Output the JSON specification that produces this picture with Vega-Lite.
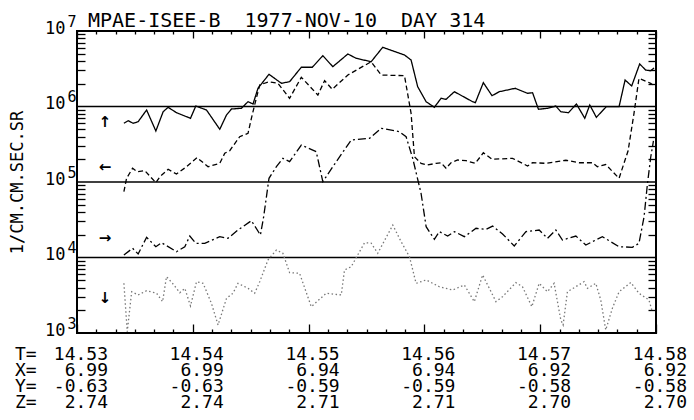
{
  "$schema": "https://vega.github.io/schema/vega-lite/v6.json",
  "autosize": {"type": "none"},
  "padding": {"left": 77, "top": 31, "right": 38, "bottom": 87},
  "width": 579,
  "height": 302,
  "background": "white",
  "config": {
    "view": {"stroke": "black", "strokeWidth": 2},
    "axis": {"domain": false, "grid": false, "tickColor": "black", "tickWidth": 1.3, "labelColor": "black", "titleColor": "black"},
    "text": {"font": "DejaVu Sans Mono", "color": "black"}
  },
  "datasets": {
    "refs": [{"ref": 1000000}, {"ref": 100000}, {"ref": 10000}],
    "heading": [{"t": 14.53, "v": 10000000, "label": "MPAE-ISEE-B \u00a01977-NOV-10 \u00a0DAY 314"}],
    "series": [
      {"s":"up","t":14.53405,"v":599000},{"s":"up","t":14.53442,"v":649000},{"s":"up","t":14.53485,"v":599000},{"s":"up","t":14.53528,"v":629000},{"s":"up","t":14.53601,"v":899000},{"s":"up","t":14.53681,"v":474000},{"s":"up","t":14.53744,"v":853000},{"s":"up","t":14.53787,"v":976000},{"s":"up","t":14.53859,"v":828000},{"s":"up","t":14.5398,"v":698000},{"s":"up","t":14.54026,"v":1015000},{"s":"up","t":14.54118,"v":899000},{"s":"up","t":14.54233,"v":499000},{"s":"up","t":14.54291,"v":772000},{"s":"up","t":14.54334,"v":927000},{"s":"up","t":14.5442,"v":947000},{"s":"up","t":14.54477,"v":1158000},{"s":"up","t":14.5452,"v":1079000},{"s":"up","t":14.54563,"v":1742000},{"s":"up","t":14.54658,"v":2670000},{"s":"up","t":14.54765,"v":2030000},{"s":"up","t":14.54836,"v":2130000},{"s":"up","t":14.54937,"v":3310000},{"s":"up","t":14.55032,"v":3310000},{"s":"up","t":14.55123,"v":4710000},{"s":"up","t":14.55209,"v":3370000},{"s":"up","t":14.55339,"v":4960000},{"s":"up","t":14.55411,"v":4350000},{"s":"up","t":14.5554,"v":3920000},{"s":"up","t":14.5564,"v":6080000},{"s":"up","t":14.55828,"v":4810000},{"s":"up","t":14.55885,"v":4130000},{"s":"up","t":14.55942,"v":1830000},{"s":"up","t":14.56015,"v":1158000},{"s":"up","t":14.56086,"v":976000},{"s":"up","t":14.56144,"v":1284000},{"s":"up","t":14.56187,"v":1245000},{"s":"up","t":14.56259,"v":1570000},{"s":"up","t":14.56416,"v":1158000},{"s":"up","t":14.5644,"v":1123000},{"s":"up","t":14.56509,"v":2070000},{"s":"up","t":14.56584,"v":1390000},{"s":"up","t":14.56647,"v":1570000},{"s":"up","t":14.56784,"v":1742000},{"s":"up","t":14.56891,"v":1495000},{"s":"up","t":14.56934,"v":1523000},{"s":"up","t":14.56985,"v":918000},{"s":"up","t":14.57063,"v":947000},{"s":"up","t":14.57135,"v":1015000},{"s":"up","t":14.57178,"v":853000},{"s":"up","t":14.57244,"v":828000},{"s":"up","t":14.57313,"v":1079000},{"s":"up","t":14.57385,"v":698000},{"s":"up","t":14.57428,"v":1047000},{"s":"up","t":14.57485,"v":719000},{"s":"up","t":14.57571,"v":994000},{"s":"up","t":14.57681,"v":994000},{"s":"up","t":14.57733,"v":2240000},{"s":"up","t":14.5779,"v":1870000},{"s":"up","t":14.57859,"v":3660000},{"s":"up","t":14.57911,"v":3040000},{"s":"up","t":14.57954,"v":2980000},{"s":"up","t":14.57983,"v":3240000},
      {"s":"left","t":14.53405,"v":74400},{"s":"left","t":14.53428,"v":111900},{"s":"left","t":14.5348,"v":151900},{"s":"left","t":14.5352,"v":136900},{"s":"left","t":14.53586,"v":141100},{"s":"left","t":14.53681,"v":97900},{"s":"left","t":14.53716,"v":117600},{"s":"left","t":14.53787,"v":147300},{"s":"left","t":14.53859,"v":127600},{"s":"left","t":14.53946,"v":159400},{"s":"left","t":14.54037,"v":210000},{"s":"left","t":14.54132,"v":159400},{"s":"left","t":14.54233,"v":176900},{"s":"left","t":14.54276,"v":240000},{"s":"left","t":14.54319,"v":260000},{"s":"left","t":14.54405,"v":398000},{"s":"left","t":14.54477,"v":442000},{"s":"left","t":14.54506,"v":698000},{"s":"left","t":14.54534,"v":1047000},{"s":"left","t":14.54578,"v":1930000},{"s":"left","t":14.54658,"v":2130000},{"s":"left","t":14.54735,"v":2030000},{"s":"left","t":14.54836,"v":1284000},{"s":"left","t":14.54937,"v":2440000},{"s":"left","t":14.5508,"v":1420000},{"s":"left","t":14.55138,"v":2200000},{"s":"left","t":14.55204,"v":1690000},{"s":"left","t":14.55339,"v":2610000},{"s":"left","t":14.5554,"v":3920000},{"s":"left","t":14.55627,"v":2610000},{"s":"left","t":14.55828,"v":2560000},{"s":"left","t":14.55885,"v":812000},{"s":"left","t":14.55914,"v":216000},{"s":"left","t":14.55971,"v":176900},{"s":"left","t":14.56028,"v":168000},{"s":"left","t":14.56101,"v":176900},{"s":"left","t":14.56144,"v":180000},{"s":"left","t":14.56187,"v":151900},{"s":"left","t":14.5623,"v":180000},{"s":"left","t":14.56287,"v":195600},{"s":"left","t":14.56359,"v":191500},{"s":"left","t":14.5644,"v":176900},{"s":"left","t":14.56509,"v":244000},{"s":"left","t":14.56584,"v":200000},{"s":"left","t":14.56761,"v":206000},{"s":"left","t":14.56891,"v":163000},{"s":"left","t":14.56934,"v":180000},{"s":"left","t":14.57049,"v":176900},{"s":"left","t":14.57222,"v":194000},{"s":"left","t":14.57336,"v":180000},{"s":"left","t":14.57451,"v":180000},{"s":"left","t":14.57494,"v":159400},{"s":"left","t":14.57566,"v":170500},{"s":"left","t":14.57681,"v":111900},{"s":"left","t":14.57759,"v":259000},{"s":"left","t":14.5781,"v":812000},{"s":"left","t":14.57853,"v":2360000},{"s":"left","t":14.57954,"v":2030000},{"s":"left","t":14.57983,"v":1870000},
      {"s":"right","t":14.53405,"v":10790},{"s":"right","t":14.5348,"v":13240},{"s":"right","t":14.53528,"v":11130},{"s":"right","t":14.53601,"v":18510},{"s":"right","t":14.53681,"v":13900},{"s":"right","t":14.5373,"v":15700},{"s":"right","t":14.53859,"v":11930},{"s":"right","t":14.53931,"v":13900},{"s":"right","t":14.53974,"v":19260},{"s":"right","t":14.54026,"v":15420},{"s":"right","t":14.54103,"v":15420},{"s":"right","t":14.54233,"v":18860},{"s":"right","t":14.54304,"v":17960},{"s":"right","t":14.5439,"v":23100},{"s":"right","t":14.54506,"v":30700},{"s":"right","t":14.54584,"v":19860},{"s":"right","t":14.54612,"v":34700},{"s":"right","t":14.54658,"v":111900},{"s":"right","t":14.54722,"v":159400},{"s":"right","t":14.54778,"v":206000},{"s":"right","t":14.54836,"v":185800},{"s":"right","t":14.54937,"v":309000},{"s":"right","t":14.55066,"v":252000},{"s":"right","t":14.55123,"v":100900},{"s":"right","t":14.55209,"v":159400},{"s":"right","t":14.55368,"v":360000},{"s":"right","t":14.55526,"v":379000},{"s":"right","t":14.55627,"v":514000},{"s":"right","t":14.55784,"v":464000},{"s":"right","t":14.55842,"v":398000},{"s":"right","t":14.55899,"v":206000},{"s":"right","t":14.55971,"v":70900},{"s":"right","t":14.56015,"v":25600},{"s":"right","t":14.56086,"v":17420},{"s":"right","t":14.56129,"v":22000},{"s":"right","t":14.56201,"v":19260},{"s":"right","t":14.56259,"v":22000},{"s":"right","t":14.56345,"v":18860},{"s":"right","t":14.56446,"v":24400},{"s":"right","t":14.56532,"v":23600},{"s":"right","t":14.56589,"v":26100},{"s":"right","t":14.56675,"v":20500},{"s":"right","t":14.56776,"v":14200},{"s":"right","t":14.56877,"v":22000},{"s":"right","t":14.56991,"v":23100},{"s":"right","t":14.57063,"v":17960},{"s":"right","t":14.57135,"v":23100},{"s":"right","t":14.57192,"v":17050},{"s":"right","t":14.57308,"v":19260},{"s":"right","t":14.57394,"v":14640},{"s":"right","t":14.57537,"v":18860},{"s":"right","t":14.57681,"v":13900},{"s":"right","t":14.57796,"v":13650},{"s":"right","t":14.57853,"v":15420},{"s":"right","t":14.57897,"v":34700},{"s":"right","t":14.57925,"v":91300},{"s":"right","t":14.57954,"v":211000},{"s":"right","t":14.57978,"v":350000},
      {"s":"down","t":14.53405,"v":4550},{"s":"down","t":14.53434,"v":1040},{"s":"down","t":14.53472,"v":3520},{"s":"down","t":14.53528,"v":3190},{"s":"down","t":14.53601,"v":3630},{"s":"down","t":14.53687,"v":3360},{"s":"down","t":14.53739,"v":2600},{"s":"down","t":14.53773,"v":5570},{"s":"down","t":14.53825,"v":4550},{"s":"down","t":14.53888,"v":3420},{"s":"down","t":14.53931,"v":3910},{"s":"down","t":14.5398,"v":2280},{"s":"down","t":14.54032,"v":4780},{"s":"down","t":14.54089,"v":4550},{"s":"down","t":14.54161,"v":2470},{"s":"down","t":14.54218,"v":1276},{"s":"down","t":14.54291,"v":2880},{"s":"down","t":14.54347,"v":3360},{"s":"down","t":14.5439,"v":4550},{"s":"down","t":14.54477,"v":3910},{"s":"down","t":14.54534,"v":3360},{"s":"down","t":14.54578,"v":4780},{"s":"down","t":14.54649,"v":9270},{"s":"down","t":14.54722,"v":12570},{"s":"down","t":14.54778,"v":11370},{"s":"down","t":14.54836,"v":6290},{"s":"down","t":14.54922,"v":6180},{"s":"down","t":14.55023,"v":2230},{"s":"down","t":14.55152,"v":3360},{"s":"down","t":14.55282,"v":3190},{"s":"down","t":14.5531,"v":6830},{"s":"down","t":14.55368,"v":7550},{"s":"down","t":14.55483,"v":15700},{"s":"down","t":14.5554,"v":15500},{"s":"down","t":14.55597,"v":11370},{"s":"down","t":14.55727,"v":26900},{"s":"down","t":14.55799,"v":16200},{"s":"down","t":14.55871,"v":10250},{"s":"down","t":14.55928,"v":4550},{"s":"down","t":14.56015,"v":5040},{"s":"down","t":14.56129,"v":4100},{"s":"down","t":14.56244,"v":3710},{"s":"down","t":14.56345,"v":4320},{"s":"down","t":14.56431,"v":2600},{"s":"down","t":14.56503,"v":5870},{"s":"down","t":14.56618,"v":2600},{"s":"down","t":14.56675,"v":3030},{"s":"down","t":14.5679,"v":4640},{"s":"down","t":14.56847,"v":4100},{"s":"down","t":14.56928,"v":2230},{"s":"down","t":14.56991,"v":4550},{"s":"down","t":14.57063,"v":3520},{"s":"down","t":14.5712,"v":4550},{"s":"down","t":14.57178,"v":1487},{"s":"down","t":14.57198,"v":1276},{"s":"down","t":14.57235,"v":3520},{"s":"down","t":14.57379,"v":4780},{"s":"down","t":14.57408,"v":3910},{"s":"down","t":14.5748,"v":4550},{"s":"down","t":14.57523,"v":2740},{"s":"down","t":14.57566,"v":1096},{"s":"down","t":14.57623,"v":2120},{"s":"down","t":14.57681,"v":3520},{"s":"down","t":14.57782,"v":4670},{"s":"down","t":14.57853,"v":3360},{"s":"down","t":14.57939,"v":2740},{"s":"down","t":14.57968,"v":1915}
    ],
    "arrows": [
      {"t": 14.53241, "v": 624000, "a": "↑"},
      {"t": 14.53241, "v": 158000, "a": "←"},
      {"t": 14.53241, "v": 18100, "a": "→"},
      {"t": 14.53241, "v": 2910, "a": "↓"}
    ],
    "table": [
      {"row": "T", "t": 14.53, "label": "14.53"}, {"row": "T", "t": 14.54, "label": "14.54"}, {"row": "T", "t": 14.55, "label": "14.55"}, {"row": "T", "t": 14.56, "label": "14.56"}, {"row": "T", "t": 14.57, "label": "14.57"}, {"row": "T", "t": 14.58, "label": "14.58"},
      {"row": "X", "t": 14.53, "label": "6.99"}, {"row": "X", "t": 14.54, "label": "6.99"}, {"row": "X", "t": 14.55, "label": "6.94"}, {"row": "X", "t": 14.56, "label": "6.94"}, {"row": "X", "t": 14.57, "label": "6.92"}, {"row": "X", "t": 14.58, "label": "6.92"},
      {"row": "Y", "t": 14.53, "label": "-0.63"}, {"row": "Y", "t": 14.54, "label": "-0.63"}, {"row": "Y", "t": 14.55, "label": "-0.59"}, {"row": "Y", "t": 14.56, "label": "-0.59"}, {"row": "Y", "t": 14.57, "label": "-0.58"}, {"row": "Y", "t": 14.58, "label": "-0.58"},
      {"row": "Z", "t": 14.53, "label": "2.74"}, {"row": "Z", "t": 14.54, "label": "2.74"}, {"row": "Z", "t": 14.55, "label": "2.71"}, {"row": "Z", "t": 14.56, "label": "2.71"}, {"row": "Z", "t": 14.57, "label": "2.70"}, {"row": "Z", "t": 14.58, "label": "2.70"}
    ],
    "prefix": [
      {"row": "T", "t": 14.53, "label": "T="}, {"row": "X", "t": 14.53, "label": "X="}, {"row": "Y", "t": 14.53, "label": "Y="}, {"row": "Z", "t": 14.53, "label": "Z="}
    ]
  },
  "resolve": {"axis": {"x": "independent", "y": "independent"}},
  "layer": [
    {
      "data": {"name": "refs"},
      "mark": {"type": "rule", "color": "black", "strokeWidth": 1.6},
      "encoding": {
        "y": {"field": "ref", "type": "quantitative", "scale": {"type": "log", "domain": [1000, 10000000], "nice": false},
          "axis": {"orient": "left", "values": [2000,3000,4000,5000,6000,7000,8000,9000,20000,30000,40000,50000,60000,70000,80000,90000,200000,300000,400000,500000,600000,700000,800000,900000,2000000,3000000,4000000,5000000,6000000,7000000,8000000,9000000], "labels": false, "tickSize": -8, "title": null}}
      }
    },
    {
      "data": {"name": "series"},
      "mark": {"type": "line", "strokeWidth": 1.3},
      "encoding": {
        "x": {"field": "t", "type": "quantitative", "scale": {"domain": [14.53, 14.58], "nice": false, "zero": false},
          "axis": {"orient": "bottom", "values": [14.53,14.54,14.55,14.56,14.57,14.58], "labels": false, "tickSize": -9, "title": null}},
        "y": {"field": "v", "type": "quantitative", "scale": {"type": "log", "domain": [1000, 10000000], "nice": false},
          "axis": {"orient": "left", "values": [1000,10000,100000,1000000,10000000], "labelExpr": "'10'", "ticks": false, "tickSize": 0, "labelAlign": "right", "labelBaseline": "alphabetic", "labelPadding": 12, "labelOffset": 2, "labelOverlap": false, "labelFlush": false, "labelFont": "DejaVu Sans Mono", "labelFontSize": 17,
            "title": "1/CM.CM.SEC.SR", "titleFont": "DejaVu Sans Mono", "titleFontSize": 17, "titleFontWeight": "normal", "titleAngle": 270, "titleX": -60, "titleY": 151, "titleAlign": "center", "titleBaseline": "middle"}},
        "detail": {"field": "s", "type": "nominal"},
        "color": {"field": "s", "type": "nominal", "scale": {"domain": ["up", "left", "right", "down"], "range": ["black", "black", "black", "#777777"]}, "legend": null},
        "strokeDash": {"field": "s", "type": "nominal", "scale": {"domain": ["up", "left", "right", "down"], "range": [[1, 0], [5, 3], [8, 3, 2, 3], [1.5, 2.5]]}, "legend": null}
      }
    },
    {
      "data": {"name": "arrows"},
      "mark": {"type": "text", "font": "DejaVu Sans", "fontSize": 15, "fontWeight": "bold", "align": "center", "baseline": "middle", "color": "black"},
      "encoding": {
        "x": {"field": "t", "type": "quantitative", "axis": {"orient": "bottom", "values": [14.531667,14.533333,14.535,14.536667,14.538333,14.541667,14.543333,14.545,14.546667,14.548333,14.551667,14.553333,14.555,14.556667,14.558333,14.561667,14.563333,14.565,14.566667,14.568333,14.571667,14.573333,14.575,14.576667,14.578333], "labels": false, "tickSize": -4, "title": null}},
        "y": {"field": "v", "type": "quantitative", "axis": {"orient": "left", "values": [1000,10000,100000,1000000,10000000], "labelExpr": "'' + round(log(datum.value) / LN10)", "ticks": false, "tickSize": 0, "labelAlign": "left", "labelBaseline": "alphabetic", "labelPadding": 10, "labelOffset": -5, "labelOverlap": false, "labelFlush": false, "labelFont": "DejaVu Sans Mono", "labelFontSize": 15, "title": null}},
        "text": {"field": "a", "type": "nominal"}
      }
    },
    {
      "data": {"name": "heading"},
      "mark": {"type": "text", "fontSize": 20, "align": "left", "baseline": "alphabetic", "dx": 11, "dy": -4},
      "encoding": {
        "x": {"field": "t", "type": "quantitative", "axis": {"orient": "top", "values": [14.53,14.54,14.55,14.56,14.57,14.58], "labels": false, "tickSize": -7, "title": null}},
        "y": {"field": "v", "type": "quantitative", "axis": {"orient": "right", "values": [2000,3000,4000,5000,6000,7000,8000,9000,20000,30000,40000,50000,60000,70000,80000,90000,200000,300000,400000,500000,600000,700000,800000,900000,2000000,3000000,4000000,5000000,6000000,7000000,8000000,9000000], "labels": false, "tickSize": -8, "title": null}},
        "text": {"field": "label", "type": "nominal"}
      }
    },
    {
      "data": {"name": "prefix"},
      "transform": [{"filter": "datum.row == 'T'"}],
      "mark": {"type": "text", "fontSize": 18, "align": "left", "baseline": "alphabetic", "dx": -62, "dy": 27},
      "encoding": {
        "x": {"field": "t", "type": "quantitative", "axis": {"orient": "top", "values": [14.531667,14.533333,14.535,14.536667,14.538333,14.541667,14.543333,14.545,14.546667,14.548333,14.551667,14.553333,14.555,14.556667,14.558333,14.561667,14.563333,14.565,14.566667,14.568333,14.571667,14.573333,14.575,14.576667,14.578333], "labels": false, "tickSize": -3, "title": null}},
        "y": {"datum": 1000, "type": "quantitative", "axis": null},
        "text": {"field": "label", "type": "nominal"}
      }
    },
    {
      "data": {"name": "prefix"},
      "transform": [{"filter": "datum.row == 'X'"}],
      "mark": {"type": "text", "fontSize": 18, "align": "left", "baseline": "alphabetic", "dx": -62, "dy": 43},
      "encoding": {"x": {"field": "t", "type": "quantitative", "axis": null}, "y": {"datum": 1000, "type": "quantitative", "axis": null}, "text": {"field": "label", "type": "nominal"}}
    },
    {
      "data": {"name": "prefix"},
      "transform": [{"filter": "datum.row == 'Y'"}],
      "mark": {"type": "text", "fontSize": 18, "align": "left", "baseline": "alphabetic", "dx": -62, "dy": 59},
      "encoding": {"x": {"field": "t", "type": "quantitative", "axis": null}, "y": {"datum": 1000, "type": "quantitative", "axis": null}, "text": {"field": "label", "type": "nominal"}}
    },
    {
      "data": {"name": "prefix"},
      "transform": [{"filter": "datum.row == 'Z'"}],
      "mark": {"type": "text", "fontSize": 18, "align": "left", "baseline": "alphabetic", "dx": -62, "dy": 75},
      "encoding": {"x": {"field": "t", "type": "quantitative", "axis": null}, "y": {"datum": 1000, "type": "quantitative", "axis": null}, "text": {"field": "label", "type": "nominal"}}
    },
    {
      "data": {"name": "table"},
      "transform": [{"filter": "datum.row == 'T'"}],
      "mark": {"type": "text", "fontSize": 18, "align": "right", "baseline": "alphabetic", "dx": 31, "dy": 27},
      "encoding": {"x": {"field": "t", "type": "quantitative", "axis": null}, "y": {"datum": 1000, "type": "quantitative", "axis": null}, "text": {"field": "label", "type": "nominal"}}
    },
    {
      "data": {"name": "table"},
      "transform": [{"filter": "datum.row == 'X'"}],
      "mark": {"type": "text", "fontSize": 18, "align": "right", "baseline": "alphabetic", "dx": 31, "dy": 43},
      "encoding": {"x": {"field": "t", "type": "quantitative", "axis": null}, "y": {"datum": 1000, "type": "quantitative", "axis": null}, "text": {"field": "label", "type": "nominal"}}
    },
    {
      "data": {"name": "table"},
      "transform": [{"filter": "datum.row == 'Y'"}],
      "mark": {"type": "text", "fontSize": 18, "align": "right", "baseline": "alphabetic", "dx": 31, "dy": 59},
      "encoding": {"x": {"field": "t", "type": "quantitative", "axis": null}, "y": {"datum": 1000, "type": "quantitative", "axis": null}, "text": {"field": "label", "type": "nominal"}}
    },
    {
      "data": {"name": "table"},
      "transform": [{"filter": "datum.row == 'Z'"}],
      "mark": {"type": "text", "fontSize": 18, "align": "right", "baseline": "alphabetic", "dx": 31, "dy": 75},
      "encoding": {"x": {"field": "t", "type": "quantitative", "axis": null}, "y": {"datum": 1000, "type": "quantitative", "axis": null}, "text": {"field": "label", "type": "nominal"}}
    }
  ]
}
